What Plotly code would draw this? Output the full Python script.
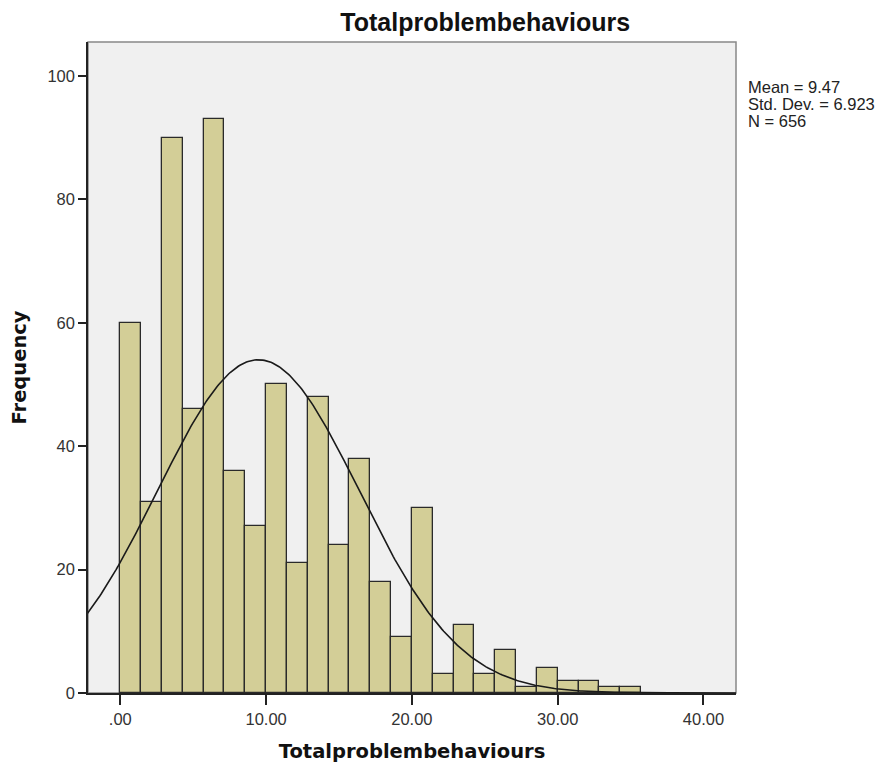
import numpy as np
import plotly.graph_objects as go

# Histogram of total problem behaviour scores
counts = [60, 31, 90, 46, 93, 36, 27, 50, 21, 48, 24, 38, 18, 9, 30,
          3, 11, 3, 7, 1, 4, 2, 2, 1, 1]
bin_start = 0.0
bin_width = 35.714 / 25
mean_val = 9.47
sd_val = 6.923
n_val = 656
x_ticks = [0, 10, 20, 30, 40]
x_tick_labels = [".00", "10.00", "20.00", "30.00", "40.00"]
y_ticks = [0, 20, 40, 60, 80, 100]
stats_lines = ["Mean = 9.47", "Std. Dev. = 6.923", "N = 656"]

centers = [bin_start + bin_width * (i + 0.5) for i in range(len(counts))]

# Normal curve scaled to the histogram counts
xs = np.linspace(-2.3, 42.3, 400)
ys = n_val * bin_width / (sd_val * np.sqrt(2 * np.pi)) * np.exp(-0.5 * ((xs - mean_val) / sd_val) ** 2)

fig = go.Figure()
fig.add_trace(go.Bar(
    x=centers, y=counts, width=bin_width,
    marker=dict(color="#D3CE97", line=dict(color="#2a2a2a", width=1.3)),
    hoverinfo="skip",
))
fig.add_trace(go.Scatter(
    x=xs, y=ys, mode="lines",
    line=dict(color="#1a1a1a", width=1.6),
    hoverinfo="skip",
))

font_family = "Liberation Sans, Arial, sans-serif"
title_family = "DejaVu Sans, Verdana, sans-serif"

# Statistics box to the right of the plot area, one line per annotation
plot_top, plot_h = 42, 651
stat_annotations = [
    dict(text=line, xref="paper", yref="paper", x=1.015,
         y=(plot_top + plot_h - py) / plot_h, xanchor="left", yanchor="middle",
         showarrow=False, font=dict(size=16.5, color="#222222"))
    for line, py in zip(stats_lines, [87, 104, 121])
]

fig.update_layout(
    width=883, height=766,
    margin=dict(l=88, r=147, t=42, b=73),
    paper_bgcolor="white",
    plot_bgcolor="#F0F0F0",
    showlegend=False,
    bargap=0,
    font=dict(family=font_family, color="#222222"),
    title=dict(text="<b>Totalproblembehaviours</b>", x=0.5495, xanchor="center",
               y=0.971, yanchor="middle", font=dict(size=25, color="#111111")),
    xaxis=dict(
        range=[-2.215, 42.23], tickmode="array", tickvals=x_ticks, ticktext=x_tick_labels,
        ticks="outside", ticklen=10, tickwidth=1.5, tickcolor="#222222",
        showline=True, linecolor="#222222", linewidth=1.5,
        showgrid=False, zeroline=False, automargin=False,
        tickfont=dict(size=16.5, color="#333333"),
        title=dict(text="<b>Totalproblembehaviours</b>", standoff=18,
                   font=dict(family=title_family, size=19.5, color="#111111")),
    ),
    yaxis=dict(
        range=[0, 105.5], tickmode="array", tickvals=y_ticks,
        ticks="outside", ticklen=8, tickwidth=1.5, tickcolor="#222222",
        showline=True, linecolor="#222222", linewidth=1.5,
        showgrid=False, zeroline=False, automargin=False,
        tickfont=dict(size=16.5, color="#333333"),
        title=dict(text="<b>Frequency</b>", standoff=16,
                   font=dict(family=title_family, size=19.5, color="#111111")),
    ),
    shapes=[dict(type="rect", xref="paper", yref="paper", x0=0, y0=0, x1=1, y1=1,
                 line=dict(color="#888888", width=1.5), layer="below")],
    annotations=stat_annotations,
)

fig.write_html("out.html")
